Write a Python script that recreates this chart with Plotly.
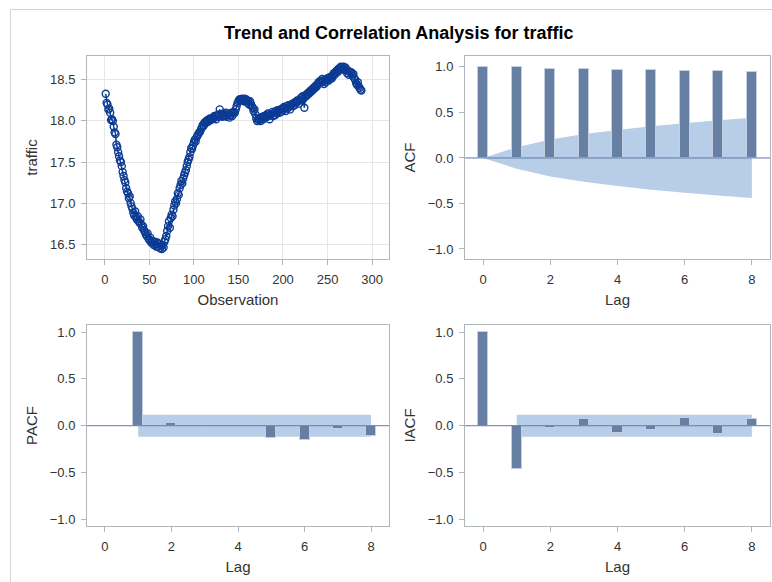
import plotly.graph_objects as go

W, H = 772, 582

# ---------------- data ----------------
traffic = [
    18.33, 18.22, 18.20, 18.14, 18.15, 18.10, 18.01, 18.02, 18.00, 17.93, 17.86, 17.84,
    17.71, 17.68, 17.62, 17.57, 17.52, 17.50, 17.45, 17.38, 17.33, 17.28, 17.25, 17.18,
    17.14, 17.12, 17.06, 17.08, 17.00, 16.96, 16.93, 16.88, 16.85, 16.90, 16.83, 16.80,
    16.84, 16.78, 16.76, 16.80, 16.74, 16.70, 16.72, 16.67, 16.65, 16.62, 16.60, 16.63,
    16.57, 16.55, 16.58, 16.52, 16.54, 16.51, 16.49, 16.53, 16.50, 16.47, 16.52, 16.47,
    16.50, 16.45, 16.48, 16.44, 16.49, 16.46, 16.53, 16.56, 16.60, 16.66, 16.72, 16.78,
    16.70, 16.82, 16.86, 16.84, 16.92, 16.97, 17.02, 17.00, 17.05, 17.12, 17.10, 17.18,
    17.22, 17.27, 17.24, 17.30, 17.34, 17.37, 17.40, 17.45, 17.50, 17.53, 17.56, 17.62,
    17.67, 17.66, 17.70, 17.74, 17.77, 17.75, 17.80, 17.82, 17.84, 17.86, 17.87, 17.90,
    17.92, 17.95, 17.94, 17.98, 17.97, 18.00, 18.01, 17.99, 18.02, 18.03, 18.01, 18.02,
    18.04, 18.03, 18.06, 18.05, 18.02, 18.07, 18.05, 18.08, 18.14, 18.06, 18.08, 18.05,
    18.09, 18.07, 18.06, 18.10, 18.05, 18.08, 18.08, 18.04, 18.07, 18.10, 18.06, 18.09,
    18.11, 18.10, 18.14, 18.18, 18.22, 18.24, 18.26, 18.26, 18.25, 18.27, 18.26, 18.24,
    18.27, 18.25, 18.26, 18.22, 18.24, 18.20, 18.24, 18.21, 18.18, 18.16, 18.12, 18.14,
    18.08, 18.03, 18.00, 18.02, 18.01, 18.04, 18.00, 18.03, 18.05, 18.02, 18.06, 18.04,
    18.07, 18.05, 18.09, 18.06, 18.02, 18.08, 18.08, 18.11, 18.06, 18.10, 18.07, 18.12,
    18.09, 18.13, 18.12, 18.10, 18.14, 18.11, 18.15, 18.13, 18.17, 18.16, 18.12, 18.18,
    18.15, 18.19, 18.17, 18.14, 18.20, 18.20, 18.18, 18.22, 18.19, 18.23, 18.22, 18.25,
    18.24, 18.21, 18.26, 18.28, 18.25, 18.30, 18.27, 18.16, 18.31, 18.30, 18.33, 18.32,
    18.35, 18.34, 18.37, 18.36, 18.39, 18.38, 18.41, 18.40, 18.43, 18.42, 18.45, 18.47,
    18.48, 18.46, 18.49, 18.51, 18.48, 18.45, 18.50, 18.47, 18.50, 18.52, 18.49, 18.53,
    18.51, 18.54, 18.52, 18.55, 18.58, 18.56, 18.60, 18.59, 18.62, 18.60, 18.64, 18.63,
    18.66, 18.65, 18.63, 18.66, 18.62, 18.65, 18.63, 18.58, 18.61, 18.56, 18.60, 18.58,
    18.59, 18.55, 18.57, 18.52, 18.50, 18.46, 18.44, 18.47, 18.42, 18.40, 18.38, 18.37,
]
observation = list(range(1, len(traffic) + 1))

lags = [0, 1, 2, 3, 4, 5, 6, 7, 8]
acf = [1.0, 0.998, 0.982, 0.981, 0.971, 0.970, 0.957, 0.956, 0.945]
acf_band = [0.0, 0.118, 0.204, 0.262, 0.308, 0.348, 0.382, 0.413, 0.441]

pacf_lags = [1, 2, 3, 4, 5, 6, 7, 8]
pacf = [1.0, 0.032, -0.01, 0.0, -0.127, -0.152, -0.035, -0.113]
pacf_band = [0.118] * 8

iacf = [1.0, -0.463, -0.02, 0.074, -0.074, -0.05, 0.085, -0.088, 0.07]
iacf_lags_band = [1, 2, 3, 4, 5, 6, 7, 8]
iacf_band = [0.118] * 8

title = "Trend and Correlation Analysis for traffic"

# ---------------- styles ----------------
FONT = "Arial, Liberation Sans, sans-serif"
SERIES = "#0b3b94"
BAR = "#667fa2"
BAR_EDGE = "#c4d0e2"
BAND = "#b8cde8"
REF = "#5b7bab"
AXIS = "#b0b7bb"
TXT = "#333333"


def px2x(p):
    return p / W


def px2y(p):
    return 1 - p / H


dom_x_left = [px2x(87), px2x(389)]
dom_x_right = [px2x(465), px2x(770)]
dom_y_top = [px2y(259), px2y(56)]
dom_y_bot = [px2y(526), px2y(325)]

fig = go.Figure()

# panel 1: series
fig.add_trace(go.Scatter(
    x=observation, y=traffic, mode="lines+markers",
    line=dict(color=SERIES, width=1.5),
    marker=dict(symbol="circle-open", size=7, color=SERIES, line=dict(width=1.4)),
    xaxis="x", yaxis="y", showlegend=False, hoverinfo="x+y"))


def band_shape(lx, hw, xa, ya):
    pts = [(x, v) for x, v in zip(lx, hw)] + [(x, -v) for x, v in zip(lx, hw)][::-1]
    path = "M " + " L ".join(f"{x},{y}" for x, y in pts) + " Z"
    return dict(type="path", path=path, xref=xa, yref=ya, fillcolor=BAND,
                line=dict(width=0), layer="below")


def bar_trace(lx, vals, xa, ya):
    return go.Bar(x=lx, y=vals, width=0.3, marker=dict(color=BAR, line=dict(color=BAR_EDGE, width=1)),
                  xaxis=xa, yaxis=ya, showlegend=False)


fig.add_trace(bar_trace(lags, acf, "x2", "y2"))
fig.add_trace(bar_trace(pacf_lags, pacf, "x3", "y3"))
fig.add_trace(bar_trace(lags, iacf, "x4", "y4"))

axis_common = dict(
    showline=True, linecolor=AXIS, linewidth=1, mirror=True,
    ticks="outside", ticklen=5, tickcolor=AXIS, tickwidth=1,
    tickfont=dict(family=FONT, size=13, color=TXT),
    ticklabelstandoff=3,
    zeroline=False,
)
title_font = dict(family=FONT, size=15, color=TXT)

lag_x = dict(axis_common, range=[-0.54, 8.54], tickvals=[0, 2, 4, 6, 8], showgrid=False,
             title=dict(text="Lag", font=title_font, standoff=8))
corr_y = dict(axis_common, tickvals=[-1.0, -0.5, 0.0, 0.5, 1.0], tickformat=".1f", showgrid=False)

fig.update_layout(
    width=W, height=H,
    margin=dict(l=0, r=0, t=0, b=0),
    paper_bgcolor="white", plot_bgcolor="white",
    bargap=0,
    font=dict(family=FONT, color=TXT),
    xaxis=dict(axis_common, domain=dom_x_left, range=[-20, 319], tickvals=[0, 50, 100, 150, 200, 250, 300],
               showgrid=True, gridcolor="#e6e6e6", gridwidth=1,
               title=dict(text="Observation", font=title_font, standoff=8), anchor="y"),
    yaxis=dict(axis_common, domain=dom_y_top, range=[16.32, 18.79], tickvals=[16.5, 17.0, 17.5, 18.0, 18.5],
               tickformat=".1f", showgrid=True, gridcolor="#e6e6e6", gridwidth=1,
               title=dict(text="traffic", font=title_font, standoff=8), anchor="x"),
    xaxis2=dict(lag_x, domain=dom_x_right, anchor="y2"),
    yaxis2=dict(corr_y, domain=dom_y_top, range=[-1.11, 1.12],
                title=dict(text="ACF", font=title_font, standoff=8), anchor="x2"),
    xaxis3=dict(lag_x, domain=dom_x_left, anchor="y3"),
    yaxis3=dict(corr_y, domain=dom_y_bot, range=[-1.07, 1.075],
                title=dict(text="PACF", font=title_font, standoff=8), anchor="x3"),
    xaxis4=dict(lag_x, domain=dom_x_right, anchor="y4"),
    yaxis4=dict(corr_y, domain=dom_y_bot, range=[-1.07, 1.075],
                title=dict(text="IACF", font=title_font, standoff=8), anchor="x4"),
    annotations=[dict(text="<b>" + title + "</b>", x=px2x(399), y=px2y(33), xref="paper", yref="paper",
                      xanchor="center", yanchor="middle", showarrow=False,
                      font=dict(family=FONT, size=18, color="#000000"))],
    shapes=[
        dict(type="rect", xref="paper", yref="paper", x0=px2x(10.5), x1=1.5, y0=-0.5, y1=px2y(9.5),
             line=dict(color="#d3d3d3", width=1), fillcolor="rgba(0,0,0,0)", layer="below"),
        band_shape(lags, acf_band, "x2", "y2"),
        band_shape(pacf_lags, pacf_band, "x3", "y3"),
        band_shape(iacf_lags_band, iacf_band, "x4", "y4"),
        dict(type="line", xref="x2 domain", yref="y2", x0=0, x1=1, y0=0, y1=0, line=dict(color=REF, width=1)),
        dict(type="line", xref="x3 domain", yref="y3", x0=0, x1=1, y0=0, y1=0, line=dict(color=REF, width=1)),
        dict(type="line", xref="x4 domain", yref="y4", x0=0, x1=1, y0=0, y1=0, line=dict(color=REF, width=1)),
    ],
)

fig.write_html("out.html")
